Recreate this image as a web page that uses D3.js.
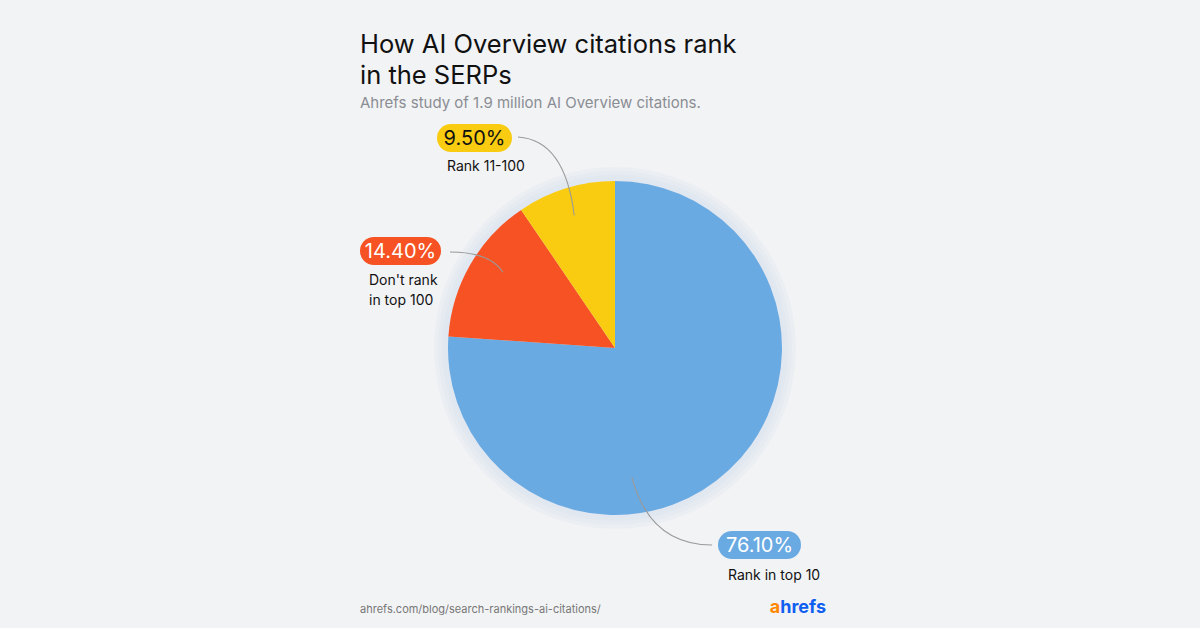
<!DOCTYPE html>
<html><head><meta charset="utf-8">
<script src="https://cdn.jsdelivr.net/npm/d3@7"></script>
<style>body{margin:0;background:#f2f3f5;font-family:Inter,"Noto Sans",sans-serif}</style>
</head><body>
<svg id="c" width="1200" height="628"></svg>
<script>
var categories = ['Rank in top 10', "Don't rank in top 100", 'Rank 11-100'];
var values = [76.1, 14.4, 9.5];
var valueLabels = ['76.10%', '14.40%', '9.50%'];
var colors = ['#6aaae2', '#f65223', '#f9cc12'];
var textColors = ['#fff', '#fff', '#111'];

var svg = d3.select('#c');
svg.append('rect').attr('width', 1200).attr('height', 628).attr('fill', '#f2f3f5');

svg.append('text').attr('x', 360).attr('y', 53).attr('font-size', 25.5).attr('fill', '#111')
  .text('How AI Overview citations rank');
svg.append('text').attr('x', 360).attr('y', 84).attr('font-size', 25.5).attr('fill', '#111')
  .text('in the SERPs');
svg.append('text').attr('x', 360).attr('y', 108).attr('font-size', 15).attr('fill', '#8a8d93')
  .text('Ahrefs study of 1.9 million AI Overview citations.');

var cx = 615, cy = 348, r = 167;
var g = svg.append('g').attr('transform', 'translate(' + cx + ',' + cy + ')');

// soft glow behind the pie
[14, 10, 6, 3].forEach(function(d, i) {
  g.append('circle').attr('r', r + d).attr('fill', '#dfe6ef').attr('opacity', 0.35 + i * 0.1);
});

var pie = d3.pie().sort(null).value(function(d) { return d; });
var arcs = pie(values);
var arc = d3.arc().innerRadius(0).outerRadius(r);
g.selectAll('path.s').data(arcs).enter().append('path').attr('class', 's')
  .attr('d', arc).attr('fill', function(d, i) { return colors[i]; });

// label layout: pill box, text lines, connector start, where in slice the connector ends
var layout = [
  {px: 718, py: 531, w: 83, tx: 728, ty: [580], ax: 712, ay: 545, af: 0.63, rf: 0.78, cdx: 18, cdy: 68},
  {px: 360, py: 237, w: 81, tx: 369, ty: [285, 305], ax: 450, ay: 252, af: 0.58, rf: 0.81, cdx: 40, cdy: 0},
  {px: 437, py: 124, w: 75, tx: 447, ty: [171], ax: 518, ay: 137, af: 0.5, rf: 0.83, cdx: 47, cdy: 3}
];
var lines = [['Rank in top 10'], ["Don't rank", 'in top 100'], ['Rank 11-100']];

arcs.forEach(function(a, i) {
  var L = layout[i];
  var ang = a.startAngle + (a.endAngle - a.startAngle) * L.af;
  var ex = cx + Math.sin(ang) * r * L.rf, ey = cy - Math.cos(ang) * r * L.rf;
  var path = d3.path();
  path.moveTo(L.ax, L.ay);
  path.quadraticCurveTo(i === 0 ? ex + L.cdx : L.ax + L.cdx, i === 0 ? L.ay : L.ay + L.cdy, ex, ey);
  svg.append('path').attr('d', path.toString()).attr('fill', 'none')
    .attr('stroke', '#9a9a9a').attr('stroke-width', 1.1);
  svg.append('rect').attr('x', L.px).attr('y', L.py).attr('width', L.w).attr('height', 28)
    .attr('rx', 14).attr('fill', colors[i]);
  svg.append('text').attr('x', L.px + L.w / 2).attr('y', L.py + 21).attr('text-anchor', 'middle')
    .attr('font-size', 20).attr('fill', textColors[i]).text(valueLabels[i]);
  lines[i].forEach(function(t, j) {
    svg.append('text').attr('x', L.tx).attr('y', L.ty[j]).attr('font-size', 14).attr('fill', '#111').text(t);
  });
});

svg.append('text').attr('x', 360).attr('y', 613).attr('font-size', 11).attr('fill', '#777')
  .text('ahrefs.com/blog/search-rankings-ai-citations/');
var logo = svg.append('text').attr('x', 826).attr('y', 613).attr('text-anchor', 'end')
  .attr('font-size', 18).attr('font-weight', 700);
logo.append('tspan').attr('fill', '#ff8800').text('a');
logo.append('tspan').attr('fill', '#0f5ff0').text('hrefs');
</script>
</body></html>
